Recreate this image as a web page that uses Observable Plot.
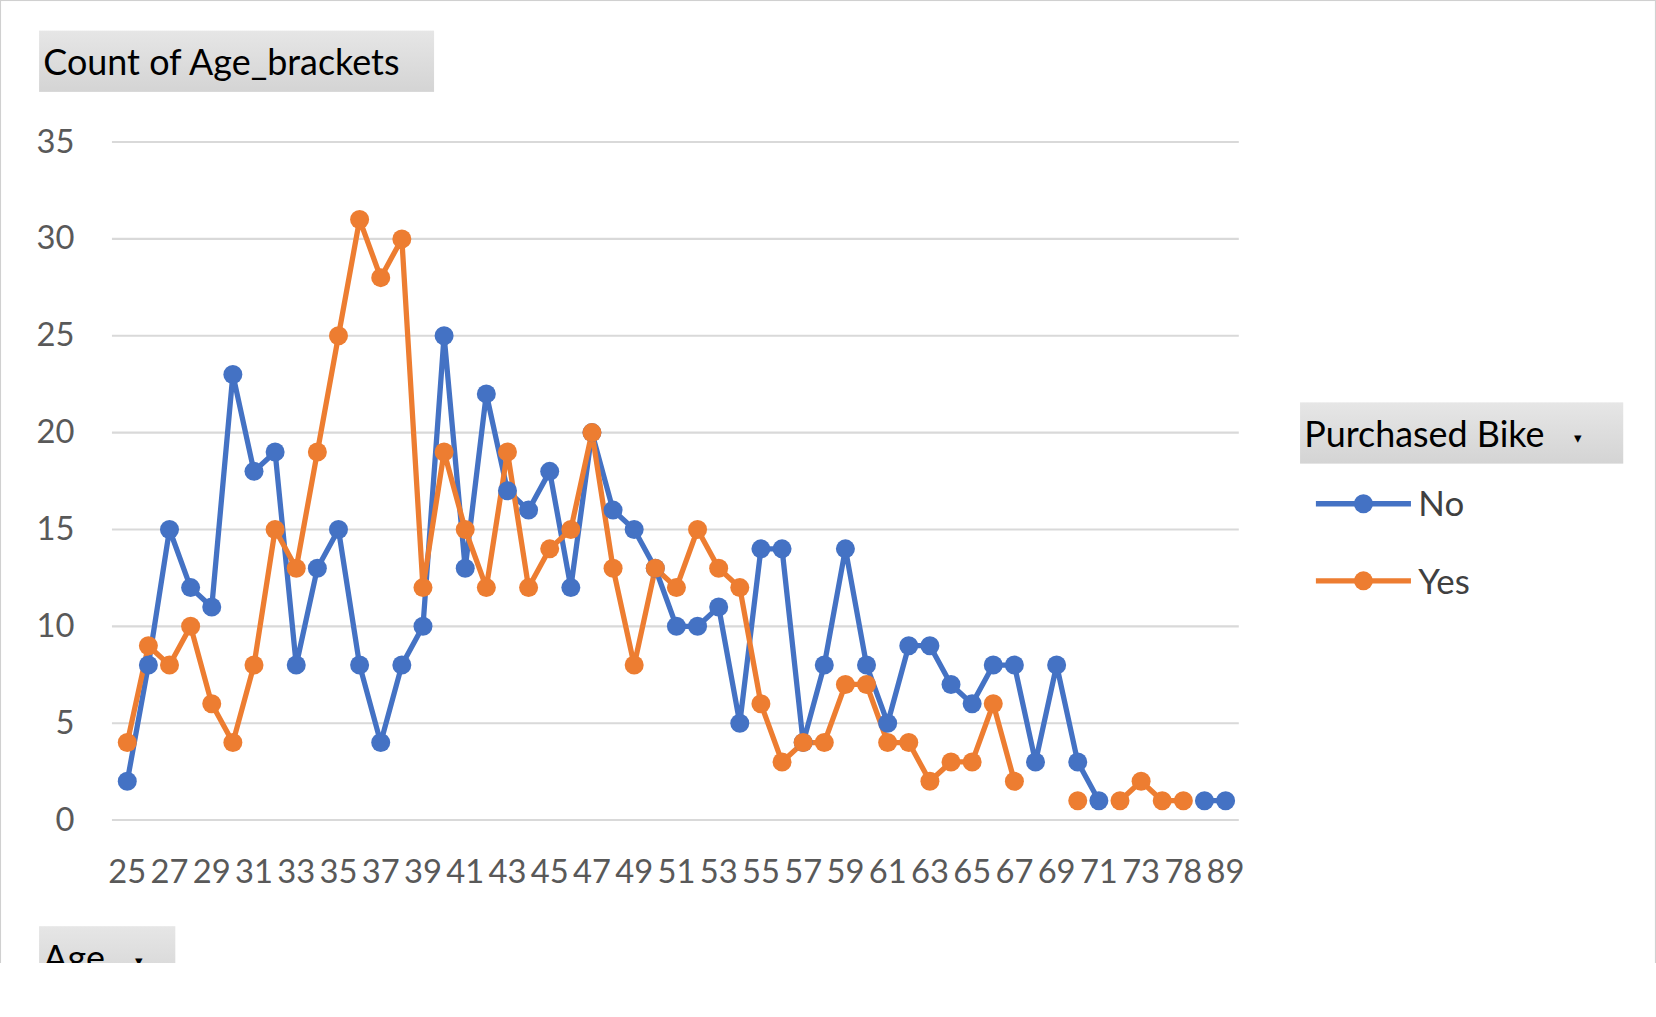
<!DOCTYPE html>
<html><head><meta charset="utf-8">
<script src="https://cdn.jsdelivr.net/npm/d3@7"></script>
<script src="https://cdn.jsdelivr.net/npm/@observablehq/plot@0.6"></script>
<style>
body{margin:0;background:#fff;font-family:Lato,"Open Sans",sans-serif;overflow:hidden;}
#frame{position:relative;width:1566px;height:961px;border:1px solid #d0d0d0;background:#fff;transform:scale(1.0561);transform-origin:0 0;}
.btn{position:absolute;background:linear-gradient(#e6e6e6,#d4d4d4);color:#000;font-size:34px;line-height:58px;padding-left:4px;box-sizing:border-box;}
.btn small{font-size:14px;vertical-align:middle;margin-left:28px;}
.leg{position:absolute;font-size:33px;color:#404040;}
#chart{position:absolute;left:0;top:0;}
</style></head><body>
<div id="frame">
<div id="chart"></div>
<div class="btn" style="left:36px;top:28px;width:374px;height:58px;">Count of Age_brackets</div>
<div class="btn" style="left:1230px;top:380px;width:306px;height:58px;">Purchased Bike<small>▾</small></div>
<div class="btn" style="left:36px;top:876px;width:129px;height:58px;">Age<small>▾</small></div>
<svg style="position:absolute;left:1240px;top:450px" width="100" height="120">
<line x1="5" x2="95" y1="26" y2="26" stroke="#4472C4" stroke-width="5"/><circle cx="50" cy="26" r="9" fill="#4472C4"/>
<line x1="5" x2="95" y1="99" y2="99" stroke="#ED7D31" stroke-width="5"/><circle cx="50" cy="99" r="9" fill="#ED7D31"/>
</svg>
<div class="leg" style="left:1342px;top:455px;">No</div>
<div class="leg" style="left:1342px;top:528px;">Yes</div>
</div>
<script>
const ages = ["25","26","27","28","29","30","31","32","33","34","35","36","37","38","39","40","41","42","43","44","45","46","47","48","49","50","51","52","53","54","55","56","57","58","59","60","61","62","63","64","65","66","67","68","69","70","71","72","73","74","78","80","89"];
const noVals = [2,8,15,12,11,23,18,19,8,13,15,8,4,8,10,25,13,22,17,16,18,12,20,16,15,13,10,10,11,5,14,14,4,8,14,8,5,9,9,7,6,8,8,3,8,3,1,null,null,null,null,1,1];
const yesVals = [4,9,8,10,6,4,8,15,13,19,25,31,28,30,12,19,15,12,19,12,14,15,20,13,8,13,12,15,13,12,6,3,4,4,7,7,4,4,2,3,3,6,2,null,null,1,null,1,2,1,1,null,null];
const series = ["No","Yes"];
const colors = ["#4472C4","#ED7D31"];
const yTicks = [0,5,10,15,20,25,30,35];

const rows = [];
series.forEach((s, k) => {
  const vals = k === 0 ? noVals : yesVals;
  ages.forEach((a, i) => rows.push({age: a, value: vals[i], s}));
});

const chart = Plot.plot({
  width: 1566, height: 961,
  marginLeft: 105, marginRight: 394, marginTop: 133, marginBottom: 186,
  style: {fontFamily: "Lato, 'Open Sans', sans-serif", fontSize: "31px", color: "#595959", background: "transparent"},
  x: {type: "point", domain: ages, padding: 0.5, label: null},
  y: {domain: [0, 35], label: null},
  color: {domain: series, range: colors},
  marks: [
    Plot.gridY(yTicks, {stroke: "#d9d9d9", strokeOpacity: 1, strokeWidth: 2}),
    Plot.axisX({ticks: ages.filter((d, i) => i % 2 === 0), tickSize: 0, tickPadding: 38, fontSize: 31, label: null}),
    Plot.axisY({ticks: yTicks, tickSize: 0, tickPadding: 36, fontSize: 31, label: null}),
    Plot.line(rows, {x: "age", y: "value", z: "s", stroke: "s", strokeWidth: 5}),
    Plot.dot(rows.filter(d => d.value != null), {x: "age", y: "value", fill: "s", r: 9})
  ]
});
document.getElementById("chart").append(chart);
</script>
</body></html>
